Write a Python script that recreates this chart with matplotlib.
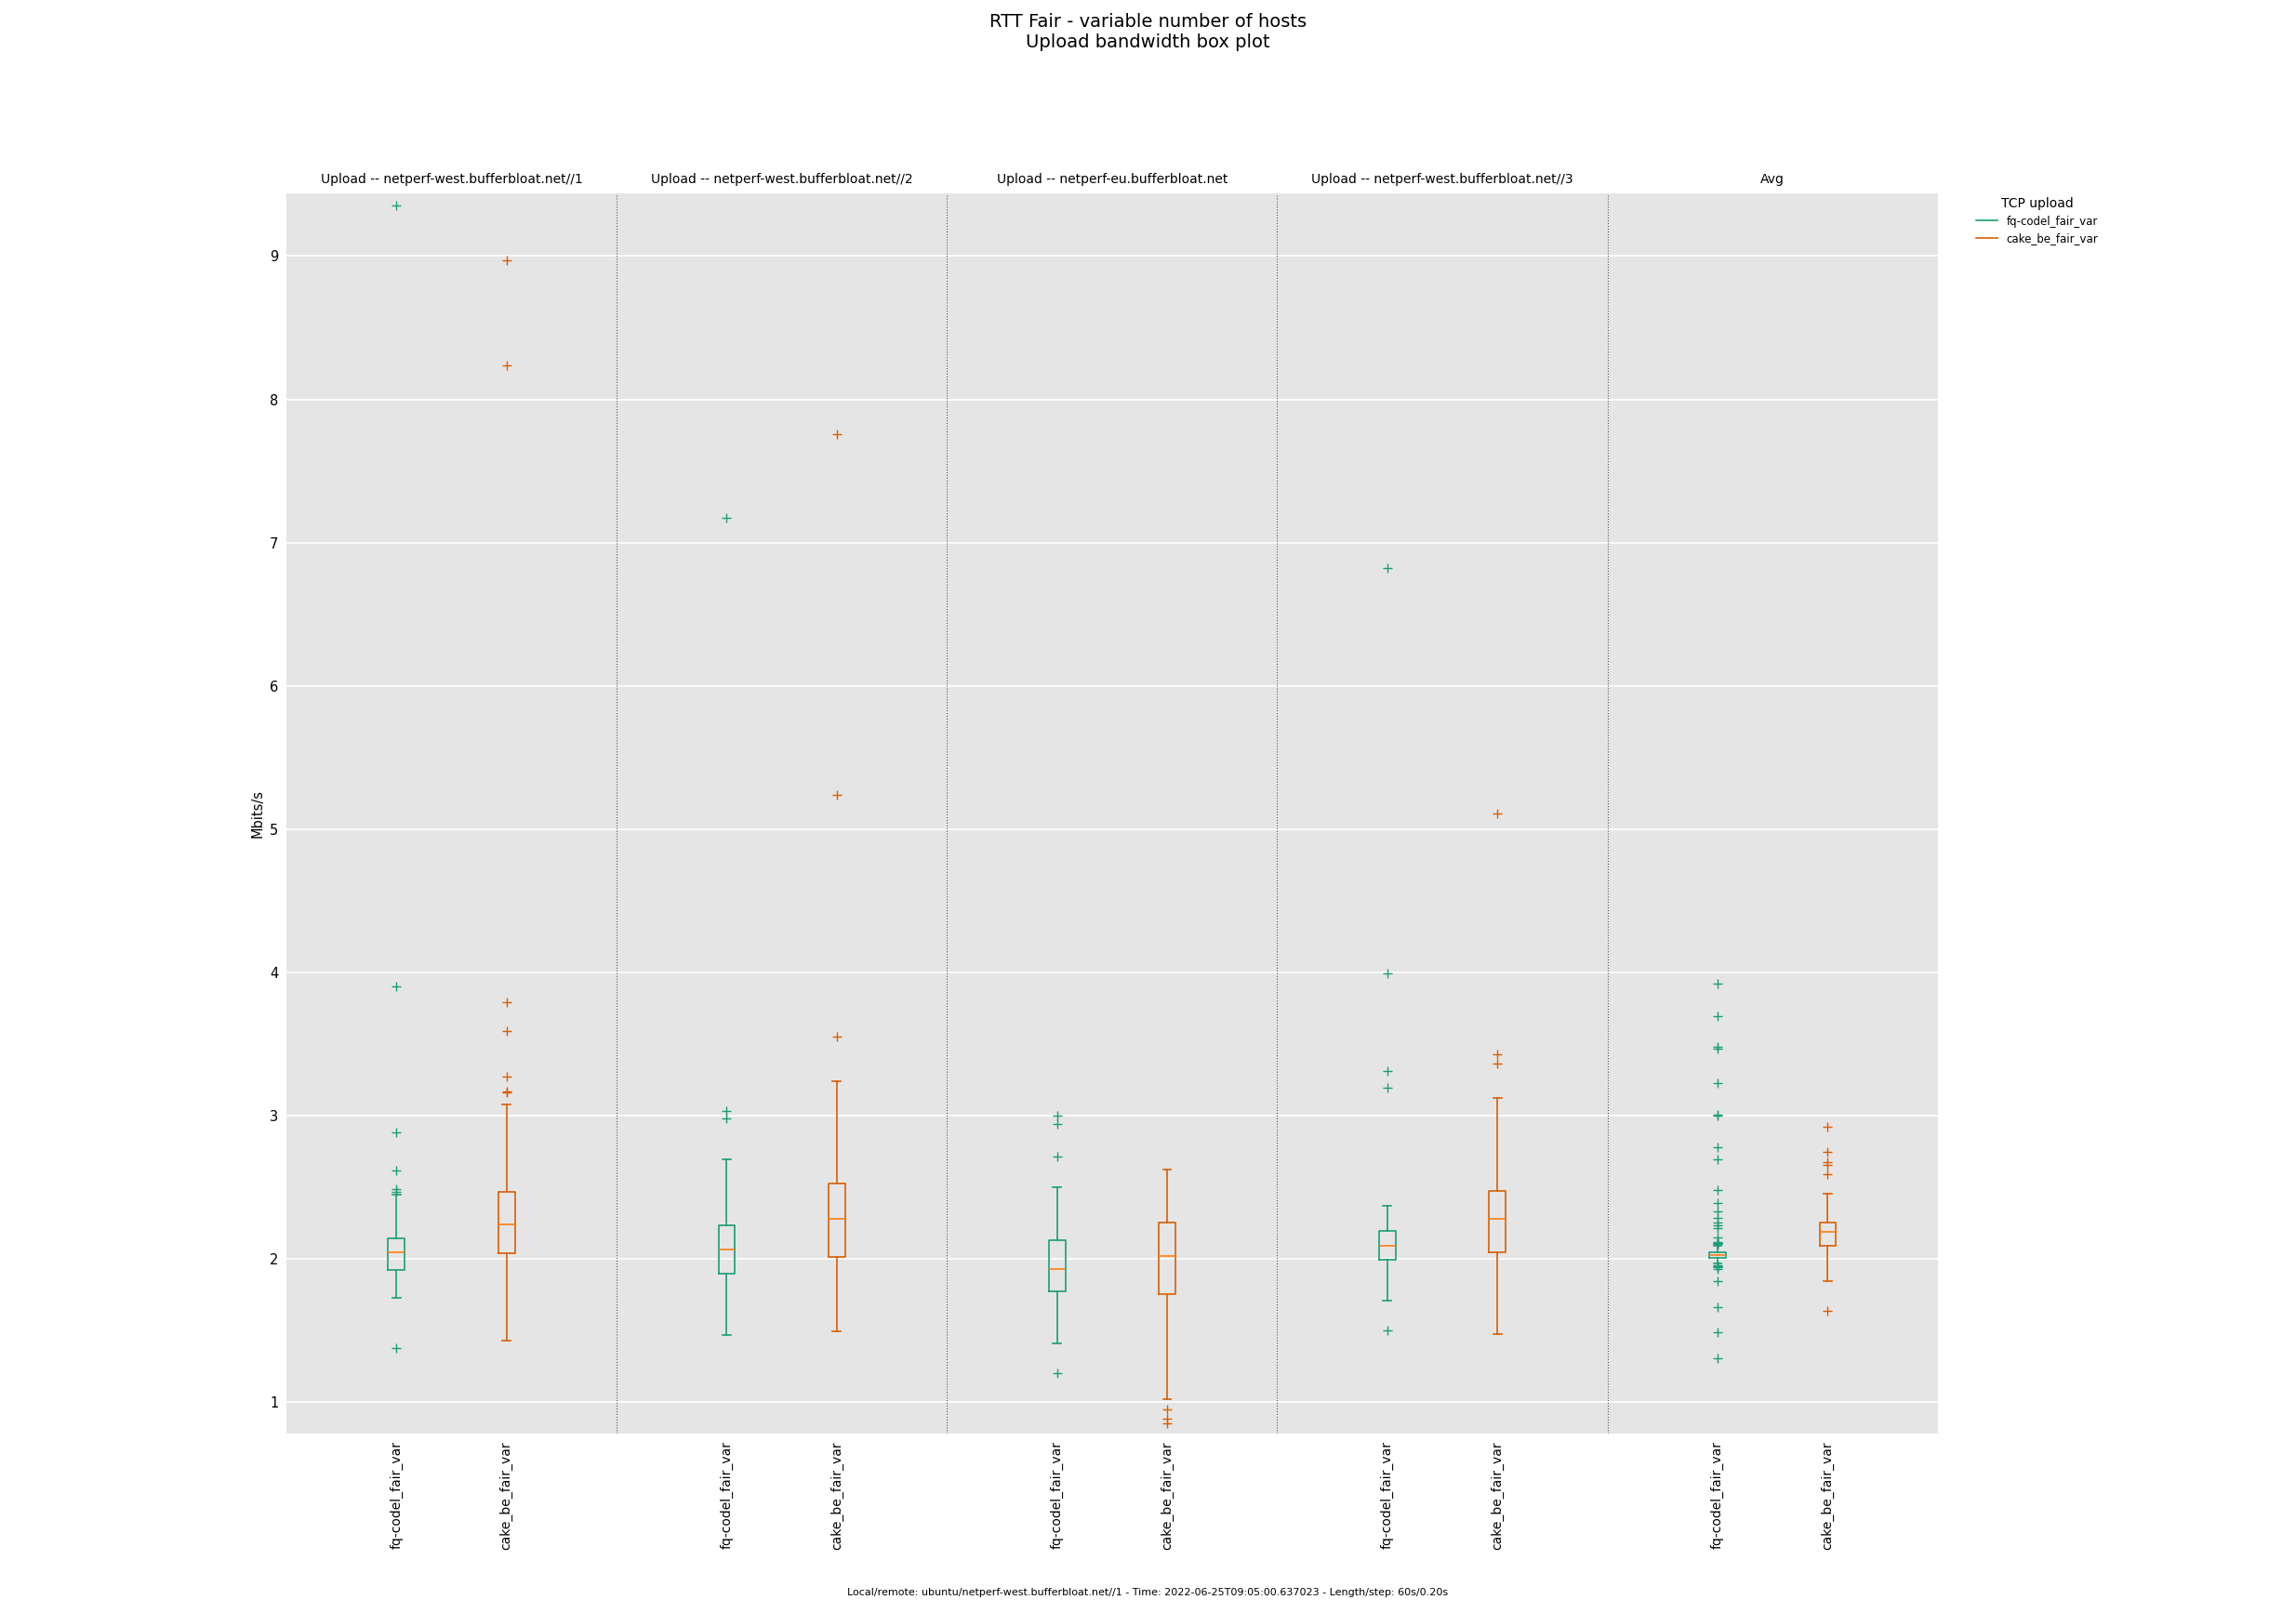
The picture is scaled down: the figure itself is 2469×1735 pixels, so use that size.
import matplotlib
matplotlib.use("Agg")
import matplotlib.pyplot as plt
import matplotlib.transforms as mtransforms
from matplotlib.lines import Line2D

# data (Mbits/s)
groups = ["Upload -- netperf-west.bufferbloat.net//1",
          "Upload -- netperf-west.bufferbloat.net//2",
          "Upload -- netperf-eu.bufferbloat.net",
          "Upload -- netperf-west.bufferbloat.net//3",
          "Avg"]
series = ["fq-codel_fair_var", "cake_be_fair_var"]

fq_med = [2.047, 2.063, 1.928, 2.089, 2.026]
fq_q1 = [1.920, 1.896, 1.772, 1.991, 2.006]
fq_q3 = [2.141, 2.232, 2.130, 2.193, 2.045]
fq_lo = [1.729, 1.468, 1.410, 1.706, 1.970]
fq_hi = [2.448, 2.697, 2.501, 2.370, 2.093]
fq_fliers = [
    [9.355, 3.90, 2.88, 2.62, 2.485, 2.47, 1.38],
    [7.17, 3.032, 2.979],
    [2.997, 2.941, 2.713, 1.202],
    [6.82, 3.991, 3.310, 3.193, 1.498],
    [3.922, 3.695, 3.478, 3.465, 3.227, 3.009, 3.002, 2.779, 2.695, 2.481,
     2.390, 2.331, 2.288, 2.251, 2.232, 2.212, 2.147, 2.119, 2.114, 2.110,
     2.106, 2.102, 1.955, 1.950, 1.946, 1.940, 1.931, 1.844, 1.662, 1.487,
     1.305],
]

cake_med = [2.240, 2.277, 2.020, 2.277, 2.188]
cake_q1 = [2.040, 2.011, 1.754, 2.043, 2.091]
cake_q3 = [2.470, 2.528, 2.253, 2.476, 2.253]
cake_lo = [1.430, 1.492, 1.021, 1.478, 1.844]
cake_hi = [3.080, 3.238, 2.626, 3.121, 2.455]
cake_fliers = [
    [8.97, 8.24, 3.79, 3.59, 3.27, 3.17, 3.16],
    [7.76, 5.24, 3.55],
    [0.949, 0.887, 0.851],
    [5.11, 3.429, 3.366],
    [2.922, 2.747, 2.673, 2.656, 2.591, 1.636],
]

title = "RTT Fair - variable number of hosts\nUpload bandwidth box plot"
footer = ("Local/remote: ubuntu/netperf-west.bufferbloat.net//1 - Time: "
          "2022-06-25T09:05:00.637023 - Length/step: 60s/0.20s")

colors = ["#1b9e77", "#d95f02"]

fig = plt.figure(figsize=(24.69, 17.35), dpi=100)
ax = fig.add_axes([0.1247, 0.1112, 0.7193, 0.7691])
ax.set_facecolor("#e5e5e5")
for s in ax.spines.values():
    s.set_visible(False)

stats = [
    (fq_med, fq_q1, fq_q3, fq_lo, fq_hi, fq_fliers),
    (cake_med, cake_q1, cake_q3, cake_lo, cake_hi, cake_fliers),
]

ticks = []
ticklabels = []
for g in range(len(groups)):
    for j, (med, q1, q3, lo, hi, fl) in enumerate(stats):
        pos = g * 3 + j + 1
        st = [dict(med=med[g], q1=q1[g], q3=q3[g], whislo=lo[g],
                   whishi=hi[g], fliers=fl[g])]
        c = colors[j]
        ax.bxp(st, positions=[pos], widths=0.15, manage_ticks=False,
               boxprops=dict(color=c, linewidth=1.2),
               whiskerprops=dict(color=c, linewidth=1.2),
               capprops=dict(color=c, linewidth=1.2),
               medianprops=dict(color="#ff7f0e", linewidth=1.2),
               flierprops=dict(marker="+", markeredgecolor=c,
                               markersize=7, linestyle="none"))
        ticks.append(pos)
        ticklabels.append(series[j])
    if g > 0:
        ax.axvline(g * 3, color="0.35", linestyle=":", linewidth=0.8)

trans = mtransforms.blended_transform_factory(ax.transData, ax.transAxes)
for g, name in enumerate(groups):
    ax.text(g * 3 + 1.5, 1.006, name, transform=trans, ha="center",
            va="bottom", fontsize=10)

ax.set_xlim(0, 15)
ax.set_ylim(0.78, 9.44)
ax.set_xticks(ticks)
ax.set_xticklabels(ticklabels, rotation=90, fontsize=10)
ax.set_yticks(range(1, 10))
ax.tick_params(axis="y", length=0, labelsize=10.5, pad=6)
ax.tick_params(axis="x", length=0, pad=6)
ax.yaxis.grid(True, color="white", linewidth=1.2)
ax.set_axisbelow(True)
ax.set_ylabel("Mbits/s", fontsize=10.5)

handles = [Line2D([], [], color=c, linewidth=1.2) for c in colors]
leg = ax.legend(handles, series, title="TCP upload", loc="upper left",
                bbox_to_anchor=(1.017, 1.005), frameon=False, fontsize=8.5,
                title_fontsize=10)

fig.suptitle(title, y=0.992, va="top", fontsize=14)
fig.text(0.5, 0.0127, footer, ha="center", va="center", fontsize=8)

fig.savefig("out.png", dpi=100)
